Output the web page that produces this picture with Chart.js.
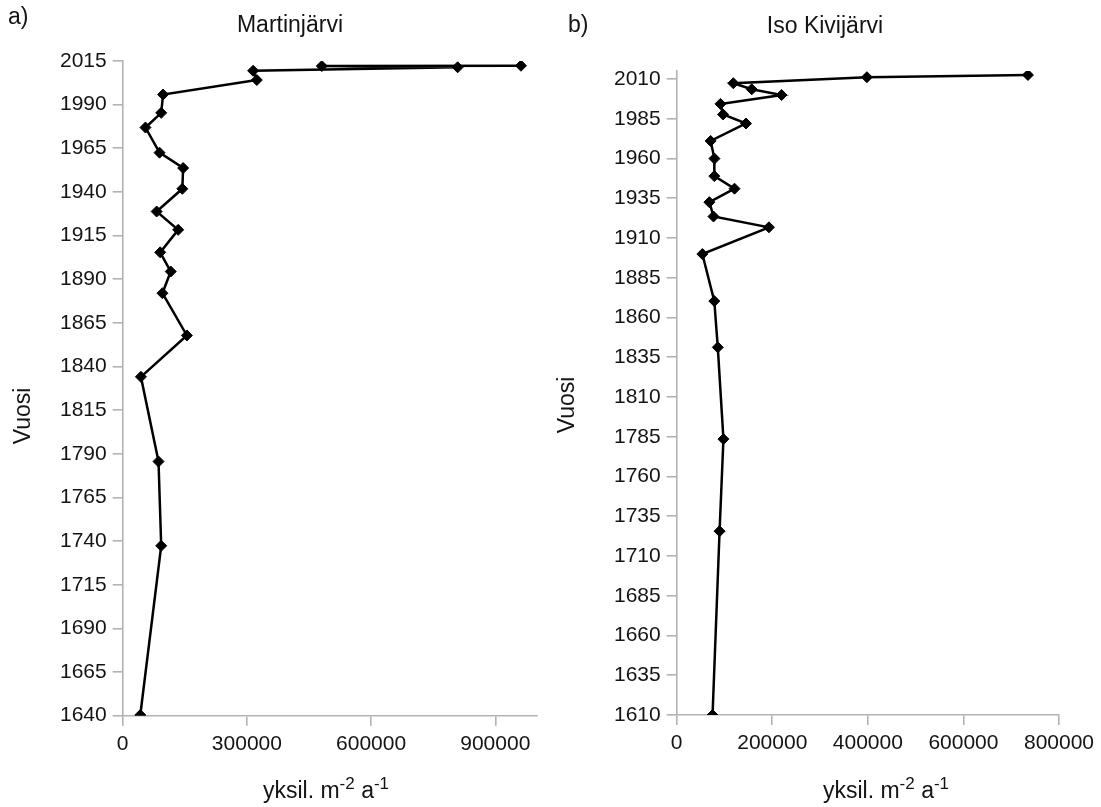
<!DOCTYPE html>
<html>
<head>
<meta charset="utf-8">
<script src="https://cdn.jsdelivr.net/npm/chart.js@4.4.1/dist/chart.umd.min.js"></script>
<style>
    html, body { margin: 0; padding: 0; background: #fff; }
    #wrap { position: relative; width: 1101px; height: 807px; }
    #wrap canvas { position: absolute; left: 0; top: 0; }
</style>
</head>
<body>
<div id="wrap">
    <canvas id="chartA" width="1101" height="807"></canvas>
    <canvas id="chartB" width="1101" height="807"></canvas>
</div>
<script>
// --- Data: a) Martinjärvi ---
const martinYears = [2012.3, 2012.1, 2011.4, 2009.4, 2004.1, 1995.8, 1985.3, 1976.9, 1962.5, 1953.7, 1941.8,
    1928.8, 1918.3, 1905.4, 1894.4, 1882.0, 1857.8, 1834.1, 1785.6, 1737.3, 1640.4];
const martinValues = [962000, 481000, 809000, 315000, 324000, 97500, 93000, 55000, 89000, 146000, 144000,
    82000, 134000, 90500, 116000, 96000, 155000, 44000, 86500, 93000, 42500];
const martinXTicks = [0, 300000, 600000, 900000];
const martinYTicks = [1640, 1665, 1690, 1715, 1740, 1765, 1790, 1815, 1840, 1865, 1890, 1915, 1940, 1965, 1990, 2015];

// --- Data: b) Iso Kivijärvi ---
const kiviYears = [2012.5, 2011.1, 2007.3, 2003.5, 1999.9, 1994.3, 1987.7, 1982.0, 1971.0, 1959.9, 1948.9,
    1941.0, 1932.5, 1923.5, 1916.7, 1899.9, 1870.3, 1841.2, 1783.5, 1725.6, 1610.0];
const kiviValues = [735000, 398000, 118500, 157000, 219500, 91500, 97000, 145000, 71000, 79000, 78700,
    121000, 68400, 77000, 193000, 53700, 78700, 86000, 97800, 89700, 75000];
const kiviXTicks = [0, 200000, 400000, 600000, 800000];
const kiviYTicks = [1610, 1635, 1660, 1685, 1710, 1735, 1760, 1785, 1810, 1835, 1860, 1885, 1910, 1935, 1960, 1985, 2010];

const FONT = '"Liberation Sans", Arial, sans-serif';
const TEXT_COLOR = '#141414';
const AXIS_COLOR = '#b3b3b3';

// x title pieces: [text, superscript?]
const xTitleParts = [['yksil. m', false], ['-2', true], [' a', false], ['-1', true]];

function drawXTitle(ctx, cx, baseY) {
    const big = '23px ' + FONT, small = '17px ' + FONT;
    let total = 0;
    xTitleParts.forEach(p => {
        ctx.font = p[1] ? small : big;
        total += ctx.measureText(p[0]).width;
    });
    let x = cx - total / 2;
    ctx.textAlign = 'left';
    ctx.textBaseline = 'alphabetic';
    xTitleParts.forEach(p => {
        ctx.font = p[1] ? small : big;
        ctx.fillText(p[0], x, p[1] ? baseY - 9 : baseY);
        x += ctx.measureText(p[0]).width;
    });
}

// Panel letters, titles and axis titles
const panelText = {
    id: 'panelText',
    afterDraw(chart, args, o) {
        const ctx = chart.ctx;
        ctx.save();
        ctx.fillStyle = TEXT_COLOR;
        ctx.font = '23px ' + FONT;
        ctx.textBaseline = 'alphabetic';
        ctx.textAlign = 'left';
        ctx.fillText(o.letter, o.letterX, o.letterY);
        ctx.textAlign = 'center';
        ctx.fillText(o.title, o.titleX, o.titleY);

        ctx.save();
        ctx.translate(o.yTitleX, o.yTitleY);
        ctx.rotate(-Math.PI / 2);
        ctx.textBaseline = 'middle';
        ctx.fillText('Vuosi', 0, 0);
        ctx.restore();

        drawXTitle(ctx, o.xTitleX, o.xTitleY);
        ctx.restore();
    }
};

function makePanel(id, years, values, xTicks, yTicks, cfg) {
    const points = years.map((y, i) => ({ x: values[i], y: y }));
    return new Chart(document.getElementById(id), {
        type: 'scatter',
        data: {
            datasets: [{
                data: points,
                showLine: true,
                tension: 0,
                borderColor: '#000',
                borderWidth: 2.5,
                backgroundColor: '#000',
                pointStyle: 'rectRot',
                pointRadius: 5.5,
                pointBorderWidth: 1,
                pointBorderColor: '#000',
                pointBackgroundColor: '#000'
            }]
        },
        options: {
            responsive: false,
            animation: false,
            devicePixelRatio: 1,
            layout: { padding: cfg.padding },
            plugins: {
                legend: { display: false },
                tooltip: { enabled: false },
                panelText: cfg.text
            },
            scales: {
                x: {
                    type: 'linear',
                    min: 0,
                    max: cfg.xMax,
                    afterBuildTicks: s => { s.ticks = xTicks.map(v => ({ value: v })); },
                    afterFit: s => { s.height = 45; },
                    grid: { display: true, drawOnChartArea: false, drawTicks: true, tickLength: 10, color: AXIS_COLOR, lineWidth: 1.6 },
                    border: { display: true, color: AXIS_COLOR, width: 1.6 },
                    ticks: {
                        padding: 6,
                        maxRotation: 0,
                        autoSkip: false,
                        color: TEXT_COLOR,
                        font: { family: FONT, size: 21 },
                        callback: v => String(v)
                    }
                },
                y: {
                    type: 'linear',
                    min: cfg.yMin,
                    max: cfg.yMax,
                    afterBuildTicks: s => { s.ticks = yTicks.map(v => ({ value: v })); },
                    afterFit: s => { s.width = 70; },
                    grid: { display: true, drawOnChartArea: false, drawTicks: true, tickLength: 10, color: AXIS_COLOR, lineWidth: 1.6 },
                    border: { display: true, color: AXIS_COLOR, width: 1.6 },
                    ticks: {
                        padding: 6,
                        autoSkip: false,
                        color: TEXT_COLOR,
                        font: { family: FONT, size: 21 },
                        callback: v => String(v)
                    }
                }
            }
        },
        plugins: [panelText]
    });
}

makePanel('chartA', martinYears, martinValues, martinXTicks, martinYTicks, {
    xMax: 1000000, yMin: 1640, yMax: 2015,
    padding: { left: 52.7, top: 61, right: 564.3, bottom: 46.3 },
    text: {
        letter: 'a)', letterX: 8, letterY: 24,
        title: 'Martinjärvi', titleX: 290, titleY: 32,
        yTitleX: 24, yTitleY: 416,
        xTitleX: 326, xTitleY: 798
    }
});

makePanel('chartB', kiviYears, kiviValues, kiviXTicks, kiviYTicks, {
    xMax: 800000, yMin: 1610, yMax: 2015,
    padding: { left: 606.7, top: 71, right: 42, bottom: 47 },
    text: {
        letter: 'b)', letterX: 568, letterY: 32,
        title: 'Iso Kivijärvi', titleX: 825, titleY: 33,
        yTitleX: 568, yTitleY: 405,
        xTitleX: 886, xTitleY: 798
    }
});
</script>
</body>
</html>
